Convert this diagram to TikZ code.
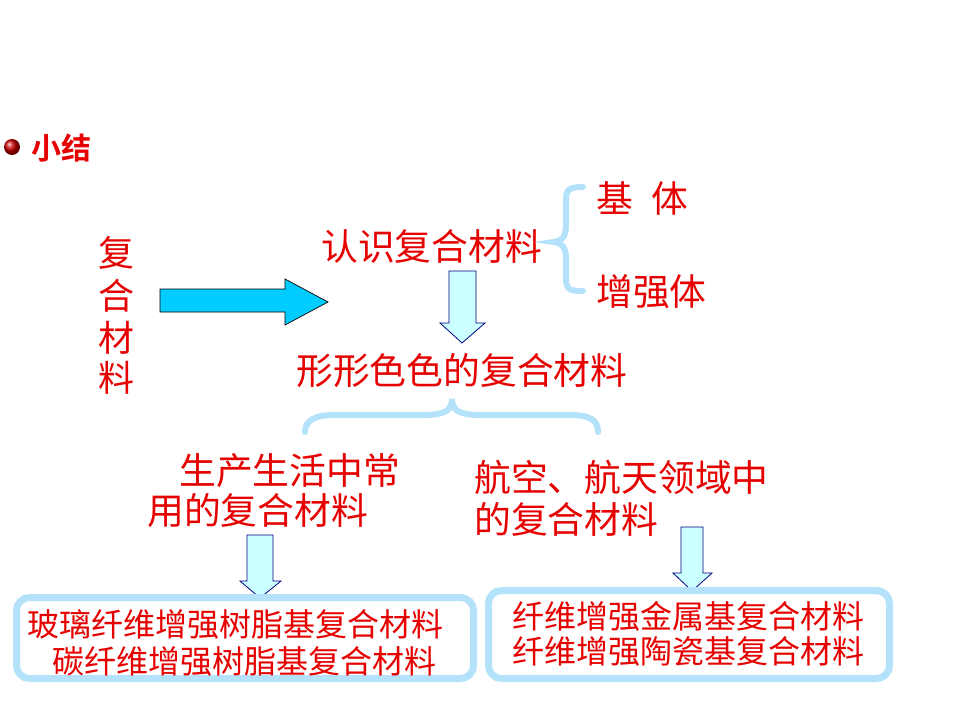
\documentclass[tikz,border=0pt]{standalone}
\usepackage{fontspec}
\setmainfont{Noto Sans CJK SC}
\newfontfamily\cjkbold{Noto Sans CJK SC Bold}
\definecolor{txtred}{RGB}{230,0,0}
\definecolor{bracecol}{RGB}{180,226,250}
\definecolor{bigarrow}{RGB}{0,204,255}
\definecolor{downfill}{RGB}{204,255,255}
\definecolor{downline}{RGB}{0,0,128}
\tikzset{
  big/.style={anchor=base west, inner sep=0pt, text=txtred, font=\fontsize{36.8}{40}\selectfont},
  small/.style={anchor=base west, inner sep=0pt, text=txtred, font=\fontsize{32}{36}\selectfont},
  vert/.style={anchor=base, inner sep=0pt, text=txtred, font=\fontsize{36}{40}\selectfont},
  bracestyle/.style={draw=bracecol, line width=6pt, line cap=round},
  downarrow/.style={draw=downline, fill=downfill, line width=0.8pt, line join=miter},
  boxstyle/.style={draw=bracecol, line width=7pt, rounded corners=13pt, fill=white}
}
\begin{document}
\begin{tikzpicture}[x=1pt,y=-1pt]
\useasboundingbox (0,0) rectangle (960,720);
\fill[white] (0,0) rectangle (960,720);
% title bullet
\shade[ball color=red!80!black] (12,147) circle (8);
\node[anchor=base west, inner sep=0pt, text=txtred, font=\cjkbold\fontsize{30}{34}\selectfont] (title) at (31,159) {小结};
% vertical text
\node[vert] (v1) at (116,266) {复};
\node[vert] (v2) at (116,309) {合};
\node[vert] (v3) at (116,351) {材};
\node[vert] (v4) at (116,391) {料};
% big right arrow
\draw[fill=bigarrow, draw=black, line width=0.7pt] (160,289) -- (285,289) -- (285,279) -- (328,302) -- (285,325) -- (285,312) -- (160,312) -- cycle;
% upper texts
\node[big] (renshi) at (321,260) {认识复合材料};
\node[big] (jiti) at (596,212) {基\hspace{18pt}体};
\node[big] (zengqiang) at (596,305) {增强体};
% brace right
\draw[bracestyle] (583,187) .. controls (565,187) and (566,192) .. (566,205) -- (566,226) .. controls (566,238) and (560,242) .. (553,242) .. controls (560,242) and (566,246) .. (566,258) -- (566,278) .. controls (566,290) and (570,291) .. (583,291);
% down arrow 1
\draw[downarrow] (449,271) -- (476,271) -- (476,323) -- (485,323) -- (462,343) -- (440,323) -- (449,323) -- cycle;
\node[big] (xingxing) at (296,384) {形形色色的复合材料};
% horizontal brace
\draw[bracestyle] (305,432) .. controls (305,420) and (315,415) .. (335,415) -- (425,415) .. controls (445,415) and (452,410) .. (452,399) .. controls (452,410) and (459,415) .. (479,415) -- (570,415) .. controls (590,415) and (598,420) .. (598,432);
% middle texts
\node[big] (sheng1) at (179,484) {生产生活中常};
\node[big] (sheng2) at (147,524) {用的复合材料};
\node[big] (hang1) at (474,491) {航空、航天领域中};
\node[big] (hang2) at (474,533) {的复合材料};
% boxes
\draw[boxstyle] (16.5,597.5) rectangle (473.5,678.5);
\draw[boxstyle] (488.5,590.5) rectangle (889.5,678.5);
% down arrows 2 and 3
\draw[downarrow] (247,535) -- (273,535) -- (273,581) -- (281,581) -- (260,598) -- (240,581) -- (247,581) -- cycle;
\draw[downarrow] (681,527) -- (703,527) -- (703,573) -- (712,573) -- (692,591) -- (673,573) -- (681,573) -- cycle;
\draw[bracecol, line width=7pt] (230,597.5) -- (290,597.5);
\draw[bracecol, line width=7pt] (660,590.5) -- (720,590.5);
% box texts
\node[small] (b1) at (27,636) {玻璃纤维增强树脂基复合材料};
\node[small] (b2) at (52,673) {碳纤维增强树脂基复合材料};
\node[small] (b3) at (512,628) {纤维增强金属基复合材料};
\node[small] (b4) at (512,663) {纤维增强陶瓷基复合材料};
\end{tikzpicture}
\end{document}
